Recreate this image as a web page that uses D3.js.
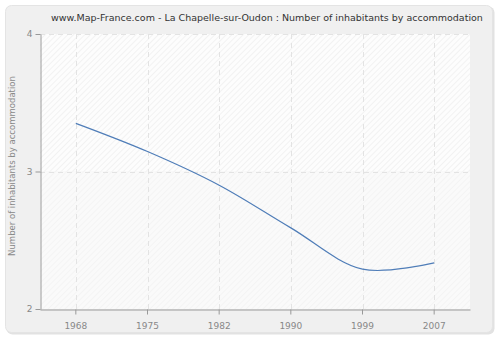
<!DOCTYPE html>
<html>
<head>
<meta charset="utf-8">
<script src="https://cdn.jsdelivr.net/npm/d3@7"></script>
<style>
  html, body { margin: 0; padding: 0; background: #ffffff; }
  svg { display: block; }
  text { font-family: "DejaVu Sans", Verdana, sans-serif; }
</style>
</head>
<body>
<svg id="chart" width="500" height="340"></svg>
<script>
// Census years and average number of inhabitants per dwelling
const years = ["1968", "1975", "1982", "1990", "1999", "2007"];
const inhabitants = [3.35, 3.145, 2.9, 2.59, 2.29, 2.335];
const yTicks = [2, 3, 4];
const title = "www.Map-France.com - La Chapelle-sur-Oudon : Number of inhabitants by accommodation";
const yLabel = "Number of inhabitants by accommodation";

const svg = d3.select("#chart");
const margin = { left: 40, right: 30, top: 34, bottom: 31 };
const W = 500, H = 340;

// Outer panel
svg.append("rect")
  .attr("x", 6.5).attr("y", 6.5)
  .attr("width", 488).attr("height", 328)
  .attr("rx", 6)
  .attr("fill", "#e2e2e2");
svg.append("rect")
  .attr("x", 5.5).attr("y", 5.5)
  .attr("width", 487).attr("height", 327)
  .attr("rx", 6)
  .attr("fill", "#f0f0f0")
  .attr("stroke", "#e4e4e4");

// Hatched fills for the plot background
const defs = svg.append("defs");
function hatch(id, bg, line) {
  const p = defs.append("pattern")
    .attr("id", id)
    .attr("patternUnits", "userSpaceOnUse")
    .attr("width", 4).attr("height", 4)
    .attr("patternTransform", "rotate(45)");
  p.append("rect").attr("width", 4).attr("height", 4).attr("fill", bg);
  p.append("line").attr("x1", 0).attr("y1", 0).attr("x2", 0).attr("y2", 4)
    .attr("stroke", line).attr("stroke-width", 1.2);
}
hatch("hatchUpper", "#fdfdfd", "#ececec");
hatch("hatchLower", "#fafafa", "#f1f1f1");

const x = d3.scaleBand()
  .domain(years)
  .range([margin.left, W - margin.right]);
const y = d3.scaleLinear()
  .domain([2, 4])
  .range([H - margin.bottom, margin.top]);

const plotL = margin.left, plotR = W - margin.right;
svg.append("rect")
  .attr("x", plotL).attr("y", y(4))
  .attr("width", plotR - plotL).attr("height", y(3) - y(4))
  .attr("fill", "url(#hatchUpper)");
svg.append("rect")
  .attr("x", plotL).attr("y", y(3))
  .attr("width", plotR - plotL).attr("height", y(2) - y(3))
  .attr("fill", "url(#hatchLower)");

// Dashed grid
const cx = d => x(d) + x.bandwidth() / 2;
svg.append("g").selectAll("line.v")
  .data(years).join("line")
  .attr("x1", d => Math.round(cx(d)) + 0.5).attr("x2", d => Math.round(cx(d)) + 0.5)
  .attr("y1", y(4)).attr("y2", y(2))
  .attr("stroke", "#e3e3e3").attr("stroke-dasharray", "5,4");
svg.append("g").selectAll("line.h")
  .data(yTicks.filter(t => t !== 2)).join("line")
  .attr("x1", plotL).attr("x2", plotR)
  .attr("y1", d => Math.round(y(d)) + 0.5).attr("y2", d => Math.round(y(d)) + 0.5)
  .attr("stroke", "#e3e3e3").attr("stroke-dasharray", "5,4");

// Axes
const xAxis = svg.append("g")
  .attr("transform", `translate(0,${Math.round(y(2)) + 0.5})`)
  .call(d3.axisBottom(x).tickSize(5).tickSizeOuter(0));
const yAxis = svg.append("g")
  .attr("transform", `translate(${plotL + 0.5},0)`)
  .call(d3.axisLeft(y).tickValues(yTicks).tickFormat(d3.format("d")).tickSize(5).tickSizeOuter(0));
[xAxis, yAxis].forEach(g => {
  g.select(".domain").attr("stroke", "#999");
  g.selectAll(".tick line").attr("stroke", "#999");
  g.selectAll(".tick text").attr("fill", "#888").attr("font-size", 9)
    .attr("font-family", "DejaVu Sans, Verdana, sans-serif");
});
xAxis.selectAll(".tick text").attr("dy", "1.3em");

// Data line
const line = d3.line()
  .x((d, i) => cx(years[i]))
  .y(d => y(d))
  .curve(d3.curveCatmullRom.alpha(0.5));
svg.append("path")
  .datum(inhabitants)
  .attr("d", line)
  .attr("fill", "none")
  .attr("stroke", "#4f7db8")
  .attr("stroke-width", 1.2);

// Title and axis label
svg.append("text")
  .attr("x", 267).attr("y", 21)
  .attr("text-anchor", "middle")
  .attr("font-size", 9.5)
  .attr("fill", "#333")
  .text(title);
svg.append("text")
  .attr("transform", `translate(15,166) rotate(-90)`)
  .attr("text-anchor", "middle")
  .attr("font-size", 8.5)
  .attr("fill", "#888")
  .text(yLabel);
</script>
</body>
</html>
